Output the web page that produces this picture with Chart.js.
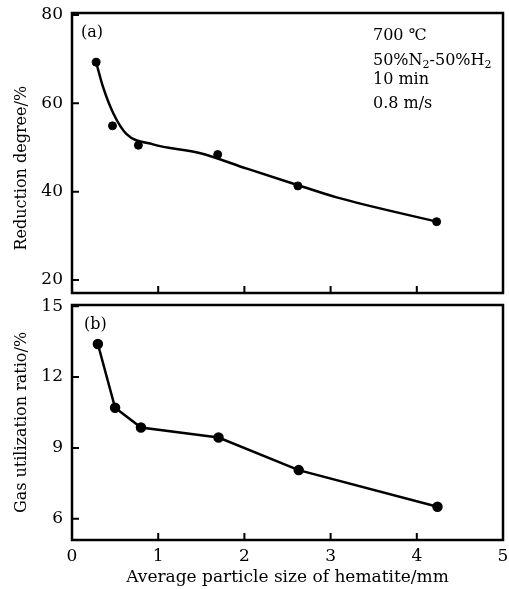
<!DOCTYPE html>
<html>
<head>
<meta charset="utf-8">
<script src="https://cdn.jsdelivr.net/npm/chart.js"></script>
<style>
html, body { margin: 0; padding: 0; background: #fff; }
#wrap { position: relative; width: 509px; height: 589px; }
.box { position: absolute; left: 0; width: 509px; }
</style>
</head>
<body>
<div id="wrap">
  <div class="box" style="top:0;height:300px"><canvas id="chartA"></canvas></div>
  <div class="box" style="top:290px;height:299px"><canvas id="chartB"></canvas></div>
</div>
<script>
// particle size (mm) and measured values
const sizeA = [0.28, 0.47, 0.77, 1.69, 2.62, 4.23];
const reduction = [69.3, 54.9, 50.5, 48.4, 41.3, 33.2];
// fitted curve through panel (a)
const fitX = [0.28, 0.36, 0.48, 0.63, 0.94, 1.49, 2.03, 2.57, 3.07, 4.23];
const fitY = [69.3, 63.7, 57.7, 53.1, 50.7, 48.7, 45.2, 41.8, 38.7, 33.2];

const sizeB = [0.30, 0.50, 0.80, 1.70, 2.63, 4.24];
const gasUtil = [13.4, 10.7, 9.86, 9.44, 8.06, 6.51];

const xTicks = [0, 1, 2, 3, 4, 5];
const ticksA = [20, 40, 60, 80];
const ticksB = [6, 9, 12, 15];

const FONT = 'DejaVu Serif';
const tickFont = { family: FONT, size: 17 };
const xTitleFont = { family: FONT, size: 17 };
const yTitleFont = { family: FONT, size: 16 };

// frame + inward tick marks
const framePlugin = {
  id: 'frame',
  afterDatasetsDraw(chart) {
    const { ctx, chartArea: a, scales } = chart;
    ctx.save();
    ctx.strokeStyle = '#000';
    ctx.lineWidth = 2;
    ctx.beginPath();
    scales.y.ticks.forEach(t => {
      const py = scales.y.getPixelForValue(t.value);
      ctx.moveTo(a.left, py);
      ctx.lineTo(a.left + 7, py);
    });
    scales.x.ticks.forEach(t => {
      const px = scales.x.getPixelForValue(t.value);
      ctx.moveTo(px, a.bottom);
      ctx.lineTo(px, a.bottom - 7);
    });
    ctx.stroke();
    ctx.lineWidth = 2.5;
    ctx.strokeRect(a.left, a.top, a.right - a.left, a.bottom - a.top);
    ctx.restore();
  }
};

// text with optional subscripts
function drawRich(ctx, parts, x, y) {
  let cx = x;
  parts.forEach(p => {
    if (p.sub) {
      ctx.font = '11px "' + FONT + '"';
      ctx.fillText(p.t, cx, y + 4);
    } else {
      ctx.font = '16px "' + FONT + '"';
      ctx.fillText(p.t, cx, y);
    }
    cx += ctx.measureText(p.t).width;
  });
}

function notesPlugin(lines) {
  return {
    id: 'notes',
    afterDraw(chart) {
      const { ctx, chartArea: a } = chart;
      ctx.save();
      ctx.fillStyle = '#000';
      ctx.textBaseline = 'middle';
      ctx.textAlign = 'left';
      lines.forEach(l => drawRich(ctx, l.parts, a.left + l.dx, a.top + l.dy));
      ctx.restore();
    }
  };
}

const setTicks = list => scale => { scale.ticks = list.map(v => ({ value: v })); };

function baseOptions(yMin, yMax, yTicks, yTitle, pad, showX) {
  return {
    responsive: true,
    maintainAspectRatio: false,
    animation: false,
    layout: { padding: pad, autoPadding: false },
    plugins: { legend: { display: false }, tooltip: { enabled: false } },
    scales: {
      x: {
        type: 'linear',
        min: 0,
        max: 5,
        afterBuildTicks: setTicks(xTicks),
        grid: { display: false, drawTicks: false },
        border: { display: false },
        ticks: { display: showX, font: tickFont, color: '#000', padding: 6 },
        title: {
          display: showX,
          text: 'Average particle size of hematite/mm',
          font: xTitleFont,
          color: '#000',
          padding: { top: 0, bottom: 1 }
        },
        afterFit(s) {
          s.height = showX ? 49 : 0;
          s.paddingLeft = 0;
          s.paddingRight = 0;
        }
      },
      y: {
        type: 'linear',
        min: yMin,
        max: yMax,
        afterBuildTicks: setTicks(yTicks),
        grid: { display: false, drawTicks: false },
        border: { display: false },
        ticks: { font: tickFont, color: '#000', padding: 9 },
        title: {
          display: true,
          text: yTitle,
          font: yTitleFont,
          color: '#000',
          padding: { top: 12, bottom: 0 }
        },
        afterFit(s) {
          s.width = 72;
          s.paddingTop = 0;
          s.paddingBottom = 0;
        }
      }
    }
  };
}

new Chart(document.getElementById('chartA'), {
  type: 'scatter',
  data: {
    datasets: [
      {
        data: fitX.map((x, i) => ({ x: x, y: fitY[i] })),
        showLine: true,
        borderColor: '#000',
        borderWidth: 2.5,
        pointRadius: 0,
        cubicInterpolationMode: 'monotone'
      },
      {
        data: sizeA.map((x, i) => ({ x: x, y: reduction[i] })),
        showLine: false,
        pointRadius: 4,
        backgroundColor: '#000',
        borderColor: '#000'
      }
    ]
  },
  // trailing spaces push the rotated title a little lower, as in the original
  options: baseOptions(17.05, 80.45, ticksA, 'Reduction degree/%' + '\u00a0'.repeat(6),
    { top: 13, right: 6, bottom: 7, left: 0 }, false),
  plugins: [framePlugin, notesPlugin([
    { dx: 9, dy: 20, parts: [{ t: '(a)' }] },
    { dx: 301, dy: 23, parts: [{ t: '700 \u2103' }] },
    { dx: 301, dy: 48, parts: [{ t: '50%N' }, { t: '2', sub: true }, { t: '-50%H' }, { t: '2', sub: true }] },
    { dx: 301, dy: 67, parts: [{ t: '10 min' }] },
    { dx: 301, dy: 91, parts: [{ t: '0.8 m/s' }] }
  ])]
});

new Chart(document.getElementById('chartB'), {
  type: 'scatter',
  data: {
    datasets: [
      {
        data: sizeB.map((x, i) => ({ x: x, y: gasUtil[i] })),
        showLine: true,
        borderColor: '#000',
        borderWidth: 2.5,
        pointRadius: 4,
        backgroundColor: '#000',
        pointBorderColor: '#000'
      }
    ]
  },
  options: baseOptions(5.1, 15.05, ticksB, 'Gas utilization ratio/%',
    { top: 15, right: 6, bottom: 0, left: 0 }, true),
  plugins: [framePlugin, notesPlugin([
    { dx: 12, dy: 20, parts: [{ t: '(b)' }] }
  ])]
});
</script>
</body>
</html>
